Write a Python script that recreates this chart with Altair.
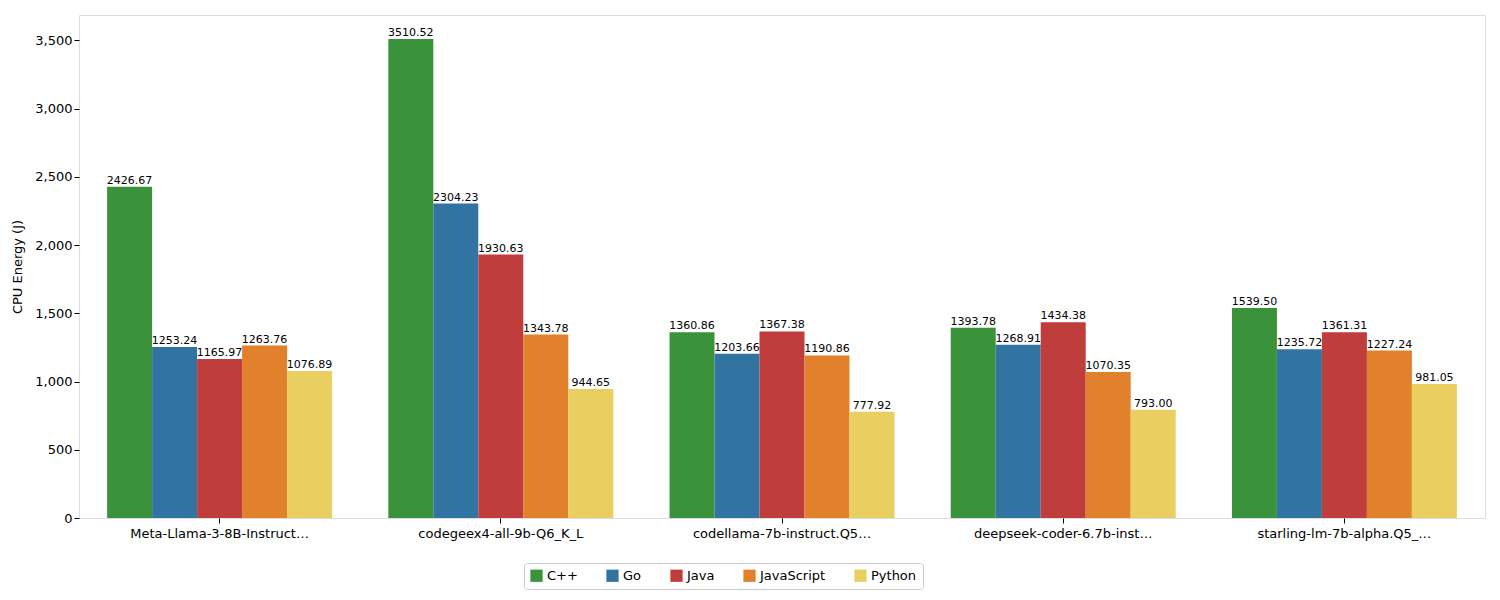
import pandas as pd
import altair as alt

models = ["Meta-Llama-3-8B-Instruct-Q6_K", "codegeex4-all-9b-Q6_K_L", "codellama-7b-instruct.Q5_K_M",
          "deepseek-coder-6.7b-instruct.Q5_K_M", "starling-lm-7b-alpha.Q5_K_S"]
languages = ["C++", "Go", "Java", "JavaScript", "Python"]
cpp = [2426.67, 3510.52, 1360.86, 1393.78, 1539.50]
go = [1253.24, 2304.23, 1203.66, 1268.91, 1235.72]
java = [1165.97, 1930.63, 1367.38, 1434.38, 1361.31]
js = [1263.76, 1343.78, 1190.86, 1070.35, 1227.24]
py = [1076.89, 944.65, 777.92, 793.00, 981.05]
colors = ["#3a923a", "#3274a1", "#c03d3e", "#e1812c", "#e9cf5f"]

rows = []
for lang, vals in zip(languages, [cpp, go, java, js, py]):
    for m, v in zip(models, vals):
        rows.append({"model": m, "language": lang, "energy": v, "label": f"{v:.2f}"})
df = pd.DataFrame(rows)

x = alt.X("model:N", sort=models, title=None,
          scale=alt.Scale(paddingInner=0.2, paddingOuter=0.1),
          axis=alt.Axis(labelAngle=0, labelFontSize=13, labelColor="black", tickColor="black",
                        domain=False, labelPadding=4))
xo = alt.XOffset("language:N", sort=languages, scale=alt.Scale(paddingInner=0, paddingOuter=0))
y = alt.Y("energy:Q", title="CPU Energy (J)", scale=alt.Scale(domain=[0, 3686], nice=False),
          axis=alt.Axis(values=list(range(0, 3501, 500)), grid=False, labelFontSize=13,
                        titleFontSize=13, titleFontWeight="normal", labelColor="black",
                        titleColor="black", tickColor="black", domain=False, titlePadding=10))

bars = alt.Chart(df).mark_bar().encode(
    x=x, xOffset=xo, y=y,
    color=alt.Color("language:N", sort=languages, scale=alt.Scale(domain=languages, range=colors),
                    legend=alt.Legend(title=None, orient="none", direction="horizontal",
                                      legendX=445, legendY=548, symbolType="square",
                                      symbolSize=150, labelFontSize=13, columnPadding=28,
                                      strokeColor="#cccccc", padding=6, cornerRadius=3,
                                      symbolStrokeWidth=0, labelColor="black"))
)
text = alt.Chart(df).mark_text(baseline="bottom", dy=-1, fontSize=11, color="black").encode(
    x=x, xOffset=xo, y=y, text="label:N"
)

chart = (bars + text).properties(
    width=1406, height=503,
    autosize=alt.AutoSizeParams(type="none"),
    padding={"left": 71, "top": 7, "right": 7, "bottom": 77}
).configure_view(stroke="black", strokeWidth=1).configure(font="DejaVu Sans")

chart.save("out.html", embed_options={"renderer": "svg", "actions": False})
